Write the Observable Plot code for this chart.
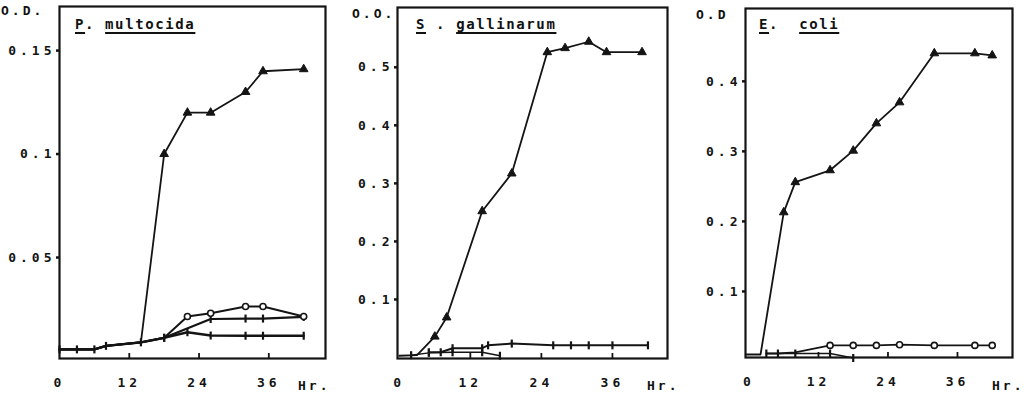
<!DOCTYPE html>
<html><head><meta charset="utf-8">
<script src="https://cdn.jsdelivr.net/npm/d3@7"></script>
<script src="https://cdn.jsdelivr.net/npm/@observablehq/plot@0.6"></script>
<style>
body{margin:0;background:#fff;}
#wrap{position:relative;width:1029px;height:397px;overflow:hidden;font-family:"DejaVu Sans Mono",monospace;font-weight:bold;color:#111;}
.panel{position:absolute;top:0;}
.lbl{position:absolute;font-size:13px;line-height:13px;letter-spacing:3px;white-space:pre;}
.ttl{position:absolute;font-size:14px;line-height:14px;letter-spacing:1.6px;white-space:pre;}
.ttl u{text-decoration-thickness:2px;text-underline-offset:3px;}
</style></head><body><div id="wrap"></div>
<script>
// ---------- data ----------
const xTicks = [0, 12, 24, 36];
const xLabels = ["0", "12", "24", "36"];

// P. multocida
const pmHours  = [0, 3, 6, 8, 14, 18, 22, 26, 32, 35, 42];
const pmMain   = [0.0056, 0.0056, 0.0056, 0.0073, 0.009, 0.100, 0.120, 0.120, 0.130, 0.140, 0.141];
const pmCircle = [0.0056, 0.0056, 0.0056, 0.0073, 0.009, 0.0112, 0.0215, 0.0231, 0.0263, 0.0263, 0.0215];
const pmMid    = [0.0056, 0.0056, 0.0056, 0.0073, 0.009, 0.0112, null, 0.0203, 0.0205, 0.0205, 0.0213];
const pmLow    = [0.0056, 0.0056, 0.0056, 0.0073, 0.009, 0.0112, 0.0139, 0.0123, 0.0122, 0.0122, 0.0122];
const pmYTicks = [0.05, 0.1, 0.15];
const pmYLabels = ["0.05", "0.1", "0.15"];

// S. gallinarum
const sgHours = [0, 3, 6, 8, 14, 19, 25, 28, 32, 35, 41];
const sgMain  = [0.003, 0.004, 0.036, 0.069, 0.252, 0.317, 0.526, 0.533, 0.544, 0.526, 0.526];
const sgLowHours = [5, 7, 9, 14, 15, 19, 26, 29, 32, 36, 42];
const sgLowA  = [0.009, 0.009, 0.016, 0.016, 0.021, 0.024, 0.021, 0.021, 0.021, 0.021, 0.021];
const sgLowBHours = [2, 5, 9, 14, 17];
const sgLowB  = [0.004, 0.008, 0.009, 0.009, 0.003];
const sgYTicks = [0.1, 0.2, 0.3, 0.4, 0.5];
const sgYLabels = ["0.1", "0.2", "0.3", "0.4", "0.5"];

// E. coli
const ecHours = [-0.5, 2, 6, 8, 14, 18, 22, 26, 32, 39, 42];
const ecMain  = [0.01, 0.01, 0.213, 0.256, 0.273, 0.301, 0.34, 0.37, 0.44, 0.44, 0.437];
const ecLowHours = [3, 5, 8, 14, 18, 22, 26, 32, 39, 42];
const ecCircle = [0.0114, 0.0114, 0.013, 0.023, 0.023, 0.023, 0.024, 0.023, 0.023, 0.023];
const ecLowBHours = [3, 5, 8, 14, 18];
const ecLowB  = [0.0114, 0.0114, 0.0114, 0.0114, 0.005];
const ecYTicks = [0.1, 0.2, 0.3, 0.4];
const ecYLabels = ["0.1", "0.2", "0.3", "0.4"];

// ---------- helpers ----------
const INK = "#141414";
const tickSym = {draw(ctx, size) { const r = Math.sqrt(size / Math.PI); ctx.moveTo(0, -r); ctx.lineTo(0, r); }};
function rows(hours, vals) {
  return hours.map((h, i) => ({h, v: vals[i], i})).filter(d => d.v != null);
}
function markerMark(data, kind) {
  if (kind === "tri") return Plot.dot(data, {x: "h", y: "v", symbol: "triangle", r: 3.2, fill: INK, stroke: INK, strokeWidth: 1});
  if (kind === "circle") return Plot.dot(data, {x: "h", y: "v", symbol: "circle", r: 3, fill: "white", stroke: INK, strokeWidth: 1.6});
  return Plot.dot(data, {x: "h", y: "v", symbol: tickSym, r: 4, fill: "none", stroke: INK, strokeWidth: 2.2});
}
function panel(cfg) {
  const marks = [Plot.frame({stroke: INK, strokeWidth: 2.2})];
  for (const s of cfg.series) {
    const d = rows(s.hours, s.vals);
    marks.push(Plot.line(d, {x: "h", y: "v", stroke: INK, strokeWidth: s.sw || 1.8}));
  }
  for (const s of cfg.series) {
    const d = rows(s.hours, s.vals).filter(r => r.i >= (s.markFrom || 0));
    marks.push(markerMark(d, s.marker));
  }
  marks.push(Plot.axisY(cfg.yTicks, {tickSize: 3, tickPadding: 1, tickFormat: d => cfg.yLabels[cfg.yTicks.indexOf(d)], label: null, stroke: INK, strokeWidth: 2.5}));
  marks.push(Plot.axisX(xTicks, {tickSize: 0, tickPadding: 19, tickFormat: d => xLabels[xTicks.indexOf(d)], label: null}));
  // short inward ticks on the bottom edge (4px tall)
  const plotH = 397 - cfg.mt - cfg.mb;
  const dy = (cfg.yDomain[1] - cfg.yDomain[0]) * 5 / plotH;
  marks.push(Plot.ruleX(xTicks.filter(t => t > 0), {x: d => d, y1: cfg.yDomain[0], y2: cfg.yDomain[0] + dy, stroke: INK, strokeWidth: 1.8}));
  const p = Plot.plot({
    width: 343, height: 397,
    marginLeft: cfg.ml, marginRight: cfg.mr, marginTop: cfg.mt, marginBottom: cfg.mb,
    x: {domain: cfg.xDomain},
    y: {domain: cfg.yDomain},
    style: {fontFamily: "'DejaVu Sans Mono', monospace", fontWeight: "bold", fontSize: "13px", letterSpacing: "4px", color: INK, background: "white"},
    marks
  });
  const div = document.createElement("div");
  div.className = "panel";
  div.style.left = cfg.left + "px";
  div.appendChild(p);
  document.getElementById("wrap").appendChild(div);
}

panel({left: 0, ml: 59, mr: 18, mt: 6, mb: 39, xDomain: [0, 45.75], yDomain: [0.0012, 0.1713],
  yTicks: pmYTicks, yLabels: pmYLabels,
  series: [
    {hours: pmHours, vals: pmLow, marker: "tick", sw: 2.4},
    {hours: pmHours, vals: pmMid, marker: "tick", sw: 2.2, markFrom: 5},
    {hours: pmHours, vals: pmCircle, marker: "circle", sw: 2, markFrom: 6},
    {hours: pmHours, vals: pmMain, marker: "tri", markFrom: 5}
  ]});
panel({left: 343, ml: 54, mr: 19, mt: 7, mb: 39, xDomain: [-0.3, 45.3], yDomain: [-0.0017, 0.603],
  yTicks: sgYTicks, yLabels: sgYLabels,
  series: [
    {hours: sgLowBHours, vals: sgLowB, marker: "tick", sw: 1.5},
    {hours: sgLowHours, vals: sgLowA, marker: "tick", sw: 2},
    {hours: sgHours, vals: sgMain, marker: "tri", markFrom: 2}
  ]});
panel({left: 686, ml: 59, mr: 17, mt: 8, mb: 40, xDomain: [-0.6, 45.5], yDomain: [0.0057, 0.504],
  yTicks: ecYTicks, yLabels: ecYLabels,
  series: [
    {hours: ecLowBHours, vals: ecLowB, marker: "tick", sw: 1.5},
    {hours: ecLowHours, vals: ecCircle, marker: "circle", sw: 1.8, markFrom: 3},
    {hours: ecHours, vals: ecMain, marker: "tri", markFrom: 2}
  ]});

// ---------- texts ----------
const texts = [
  {cls: "lbl", x: 1, y: 4, html: "O.D."},
  {cls: "lbl", x: 352, y: 7, html: "O.O."},
  {cls: "lbl", x: 696, y: 8, html: "O.D"},
  {cls: "lbl", x: 298, y: 379, html: "Hr."},
  {cls: "lbl", x: 647, y: 379, html: "Hr."},
  {cls: "lbl", x: 992, y: 379, html: "Hr."},
  {cls: "ttl", x: 75, y: 17, html: "<u>P</u>. <u>multocida</u>"},
  {cls: "ttl", x: 416, y: 17, html: "<u>S</u> . <u>gallinarum</u>"},
  {cls: "ttl", x: 759, y: 17, html: "<u>E</u>.  <u>coli</u>"}
];
for (const t of texts) {
  const el = document.createElement("div");
  el.className = t.cls;
  el.style.left = t.x + "px";
  el.style.top = t.y + "px";
  el.innerHTML = t.html;
  document.getElementById("wrap").appendChild(el);
}
</script></body></html>
